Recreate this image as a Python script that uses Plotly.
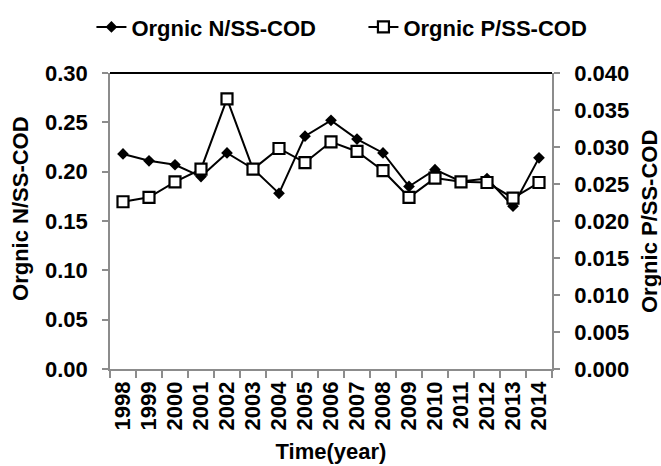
import plotly.graph_objects as go

years = [str(y) for y in range(1998, 2015)]
organic_n = [0.218, 0.211, 0.207, 0.195, 0.219, 0.203, 0.178, 0.236, 0.252,
             0.233, 0.219, 0.185, 0.202, 0.190, 0.193, 0.165, 0.214]
organic_p = [0.0226, 0.0232, 0.0253, 0.0270, 0.0365, 0.0270, 0.0298, 0.0279, 0.0307,
             0.0294, 0.0268, 0.0232, 0.0258, 0.0253, 0.0252, 0.0231, 0.0252]

FONT = "Liberation Sans, Arial, sans-serif"
AXIS_GREY = "#8c8c8c"
FS = 22

fig = go.Figure()
fig.add_trace(go.Scatter(
    x=years, y=organic_n, name="Orgnic N/SS-COD", mode="lines+markers",
    line=dict(color="black", width=2),
    marker=dict(symbol="diamond", size=9, color="black"),
    yaxis="y",
))
fig.add_trace(go.Scatter(
    x=years, y=organic_p, name="Orgnic P/SS-COD", mode="lines+markers",
    line=dict(color="black", width=2),
    marker=dict(symbol="square", size=11, color="white",
                line=dict(color="black", width=2.2)),
    yaxis="y2",
))

tick_font = dict(family=FONT, size=FS, color="black", weight="bold")
title_font = dict(family=FONT, size=FS, color="black", weight="bold")

fig.update_layout(
    width=661, height=466,
    margin=dict(l=110, r=109, t=73, b=97, autoexpand=False),
    paper_bgcolor="white", plot_bgcolor="white",
    font=dict(family=FONT, color="black"),
    showlegend=True,
    legend=dict(orientation="h", x=-0.042, xanchor="left", y=1.155, yanchor="middle",
                font=dict(family=FONT, size=FS, color="black", weight="bold"),
                entrywidth=227, entrywidthmode="pixels",
                bgcolor="rgba(0,0,0,0)"),
    xaxis=dict(
        type="category", range=[-0.5, len(years) - 0.5],
        tickangle=-90, tickson="boundaries",
        tickmode="array", tickvals=years, ticktext=years,
        ticks="outside", ticklen=7, tickcolor=AXIS_GREY, tickwidth=1.5,
        showline=True, linecolor=AXIS_GREY, linewidth=1.5,
        showgrid=False, zeroline=False, tickfont=tick_font,
        ticklabelstandoff=2, automargin=False,
        title=dict(text="Time(year)", font=title_font, standoff=14),
    ),
    yaxis=dict(
        range=[0, 0.30], dtick=0.05, tickformat=".2f",
        ticks="outside", ticklen=6, tickcolor=AXIS_GREY, tickwidth=1.5,
        showline=True, linecolor=AXIS_GREY, linewidth=1.5,
        showgrid=False, zeroline=False, tickfont=tick_font,
        ticklabelstandoff=10, automargin=False,
    ),
    yaxis2=dict(
        range=[0, 0.04], dtick=0.005, tickformat=".3f",
        overlaying="y", side="right",
        ticks="outside", ticklen=6, tickcolor=AXIS_GREY, tickwidth=1.5,
        showline=True, linecolor=AXIS_GREY, linewidth=1.5,
        showgrid=False, zeroline=False, tickfont=tick_font,
        ticklabelstandoff=10, automargin=False,
    ),
    annotations=[
        dict(text="Orgnic N/SS-COD", xref="paper", yref="paper", x=-0.2014, y=0.544,
             xanchor="center", yanchor="middle", textangle=-90, showarrow=False,
             font=title_font),
        dict(text="Orgnic P/SS-COD", xref="paper", yref="paper", x=1.2195, y=0.4966,
             xanchor="center", yanchor="middle", textangle=-90, showarrow=False,
             font=title_font),
    ],
    shapes=[dict(type="line", xref="paper", yref="paper", x0=0, x1=1, y0=1, y1=1,
                 line=dict(color="black", width=2))],
)

fig.write_html("out.html")
